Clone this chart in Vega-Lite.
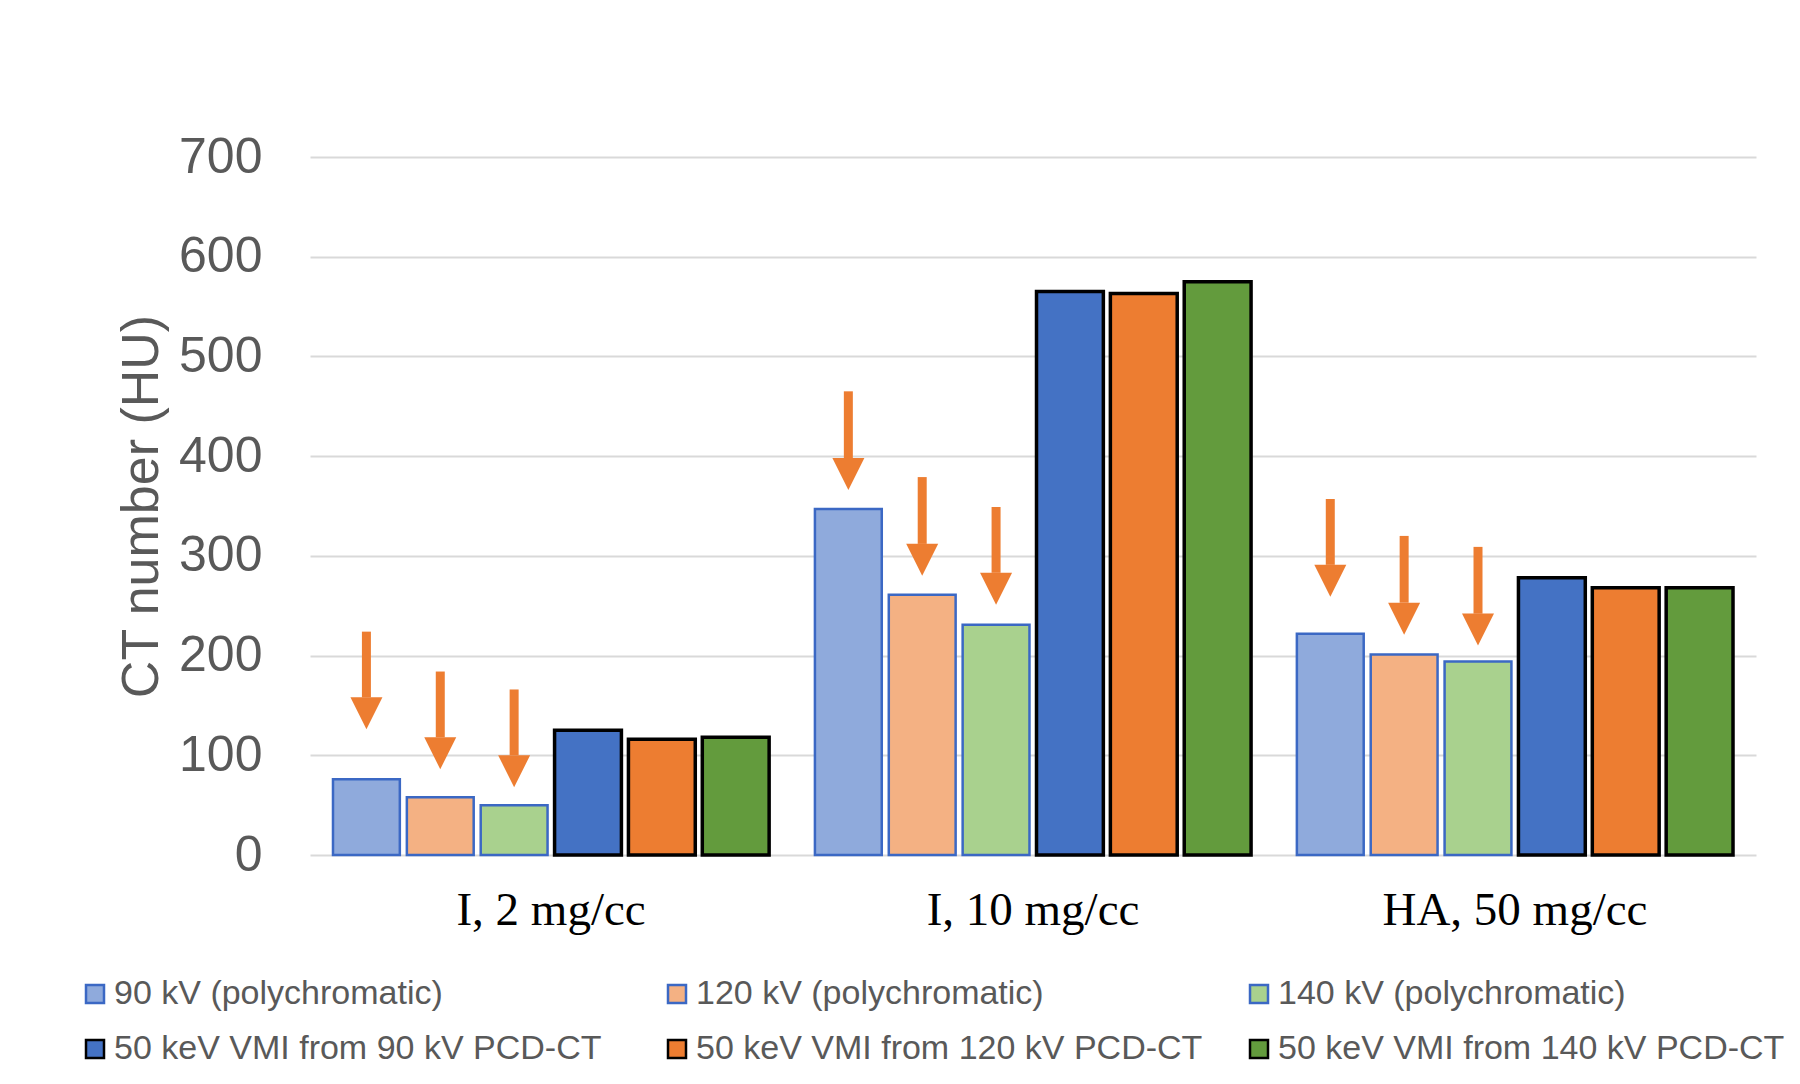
{
  "$schema": "https://vega.github.io/schema/vega-lite/v6.json",
  "width": 1446,
  "height": 698,
  "autosize": {"type": "none"},
  "padding": {"left": 310, "top": 157, "right": 44, "bottom": 229},
  "background": "white",
  "datasets": {
    "bars": [
      {"group": "I, 2 mg/cc", "series": "90 kV (polychromatic)", "value": 76},
      {"group": "I, 2 mg/cc", "series": "120 kV (polychromatic)", "value": 58},
      {"group": "I, 2 mg/cc", "series": "140 kV (polychromatic)", "value": 50},
      {"group": "I, 2 mg/cc", "series": "50 keV VMI from 90 kV PCD-CT", "value": 125},
      {"group": "I, 2 mg/cc", "series": "50 keV VMI from 120 kV PCD-CT", "value": 116},
      {"group": "I, 2 mg/cc", "series": "50 keV VMI from 140 kV PCD-CT", "value": 118},
      {"group": "I, 10 mg/cc", "series": "90 kV (polychromatic)", "value": 347},
      {"group": "I, 10 mg/cc", "series": "120 kV (polychromatic)", "value": 261},
      {"group": "I, 10 mg/cc", "series": "140 kV (polychromatic)", "value": 231},
      {"group": "I, 10 mg/cc", "series": "50 keV VMI from 90 kV PCD-CT", "value": 565},
      {"group": "I, 10 mg/cc", "series": "50 keV VMI from 120 kV PCD-CT", "value": 563},
      {"group": "I, 10 mg/cc", "series": "50 keV VMI from 140 kV PCD-CT", "value": 575},
      {"group": "HA, 50 mg/cc", "series": "90 kV (polychromatic)", "value": 222},
      {"group": "HA, 50 mg/cc", "series": "120 kV (polychromatic)", "value": 201},
      {"group": "HA, 50 mg/cc", "series": "140 kV (polychromatic)", "value": 194},
      {"group": "HA, 50 mg/cc", "series": "50 keV VMI from 90 kV PCD-CT", "value": 278},
      {"group": "HA, 50 mg/cc", "series": "50 keV VMI from 120 kV PCD-CT", "value": 268},
      {"group": "HA, 50 mg/cc", "series": "50 keV VMI from 140 kV PCD-CT", "value": 268}
    ],
    "arrows": [
      {"group": "I, 2 mg/cc", "series": "90 kV (polychromatic)", "top": 224, "neck": 158, "tip": 126},
      {"group": "I, 2 mg/cc", "series": "120 kV (polychromatic)", "top": 184, "neck": 118, "tip": 86},
      {"group": "I, 2 mg/cc", "series": "140 kV (polychromatic)", "top": 166, "neck": 100, "tip": 68},
      {"group": "I, 10 mg/cc", "series": "90 kV (polychromatic)", "top": 465, "neck": 398, "tip": 366},
      {"group": "I, 10 mg/cc", "series": "120 kV (polychromatic)", "top": 379, "neck": 312, "tip": 280},
      {"group": "I, 10 mg/cc", "series": "140 kV (polychromatic)", "top": 349, "neck": 283, "tip": 251},
      {"group": "HA, 50 mg/cc", "series": "90 kV (polychromatic)", "top": 357, "neck": 291, "tip": 259},
      {"group": "HA, 50 mg/cc", "series": "120 kV (polychromatic)", "top": 320, "neck": 253, "tip": 221},
      {"group": "HA, 50 mg/cc", "series": "140 kV (polychromatic)", "top": 309, "neck": 242, "tip": 210}
    ]
  },
  "encoding": {
    "x": {
      "field": "group",
      "type": "nominal",
      "sort": ["I, 2 mg/cc", "I, 10 mg/cc", "HA, 50 mg/cc"],
      "scale": {"paddingInner": 0.095, "paddingOuter": 0.0477},
      "title": null,
      "axis": {
        "labelAngle": 0,
        "labelFont": "Liberation Serif",
        "labelFontSize": 47,
        "labelColor": "#000000",
        "labelPadding": 32,
        "labelLimit": 600,
        "ticks": false,
        "domain": false,
        "grid": false
      }
    },
    "xOffset": {
      "field": "series",
      "type": "nominal",
      "scale": {
        "domain": ["90 kV (polychromatic)", "120 kV (polychromatic)", "140 kV (polychromatic)", "50 keV VMI from 90 kV PCD-CT", "50 keV VMI from 120 kV PCD-CT", "50 keV VMI from 140 kV PCD-CT"],
        "paddingInner": 0.095,
        "paddingOuter": 0
      }
    }
  },
  "layer": [
    {
      "data": {"name": "bars"},
      "transform": [{"filter": {"field": "series", "oneOf": ["90 kV (polychromatic)", "120 kV (polychromatic)", "140 kV (polychromatic)"]}}],
      "mark": {"type": "bar", "strokeWidth": 2.5},
      "encoding": {
        "y": {
          "field": "value",
          "type": "quantitative",
          "scale": {"domain": [0, 700]},
          "axis": {
            "values": [0, 100, 200, 300, 400, 500, 600, 700],
            "grid": true,
            "gridColor": "#D9D9D9",
            "gridWidth": 2,
            "domain": false,
            "ticks": false,
            "labelFont": "Liberation Sans",
            "labelFontSize": 50,
            "labelColor": "#595959",
            "labelPadding": 48,
            "title": "CT number (HU)",
            "titleFont": "Liberation Sans",
            "titleFontSize": 52,
            "titleFontWeight": "normal",
            "titleColor": "#595959",
            "titlePadding": 10
          }
        },
        "fill": {
          "field": "series",
          "type": "nominal",
          "scale": {
            "domain": ["90 kV (polychromatic)", "120 kV (polychromatic)", "140 kV (polychromatic)", "50 keV VMI from 90 kV PCD-CT", "50 keV VMI from 120 kV PCD-CT", "50 keV VMI from 140 kV PCD-CT"],
            "range": ["#8FAADC", "#F4B183", "#A9D18E", "#4472C4", "#ED7D31", "#639B3D"]
          },
          "legend": {
            "orient": "none",
            "legendX": -232,
            "legendY": 820,
            "direction": "horizontal",
            "columns": 3,
            "title": null,
            "padding": 0,
            "symbolType": "square",
            "symbolSize": 324,
            "symbolStrokeWidth": 2.5,
            "symbolOpacity": 1,
            "labelFont": "Liberation Sans",
            "labelFontSize": 34,
            "labelColor": "#595959",
            "labelLimit": 800,
            "labelOffset": 2,
            "columnPadding": 39,
            "rowPadding": 21,
            "gridAlign": "all"
          }
        },
        "stroke": {
          "field": "series",
          "type": "nominal",
          "scale": {
            "domain": ["90 kV (polychromatic)", "120 kV (polychromatic)", "140 kV (polychromatic)", "50 keV VMI from 90 kV PCD-CT", "50 keV VMI from 120 kV PCD-CT", "50 keV VMI from 140 kV PCD-CT"],
            "range": ["#3B68C4", "#3B68C4", "#3B68C4", "#000000", "#000000", "#000000"]
          }
        }
      }
    },
    {
      "data": {"name": "bars"},
      "transform": [{"filter": {"field": "series", "oneOf": ["50 keV VMI from 90 kV PCD-CT", "50 keV VMI from 120 kV PCD-CT", "50 keV VMI from 140 kV PCD-CT"]}}],
      "mark": {"type": "bar", "strokeWidth": 3.5},
      "encoding": {
        "y": {"field": "value", "type": "quantitative"},
        "fill": {"field": "series", "type": "nominal"},
        "stroke": {"field": "series", "type": "nominal"}
      }
    },
    {
      "data": {"name": "arrows"},
      "mark": {"type": "rule", "strokeWidth": 9, "color": "#ED7D31", "strokeCap": "butt"},
      "encoding": {
        "y": {"field": "top", "type": "quantitative"},
        "y2": {"field": "neck"}
      }
    },
    {
      "data": {"name": "arrows"},
      "mark": {"type": "point", "shape": "M-1,-2L1,-2L0,0Z", "size": 1024, "filled": true, "fill": "#ED7D31", "color": "#ED7D31", "strokeWidth": 0, "opacity": 1},
      "encoding": {
        "y": {"field": "tip", "type": "quantitative"}
      }
    }
  ],
  "config": {
    "view": {"stroke": null},
    "font": "Liberation Sans"
  }
}
